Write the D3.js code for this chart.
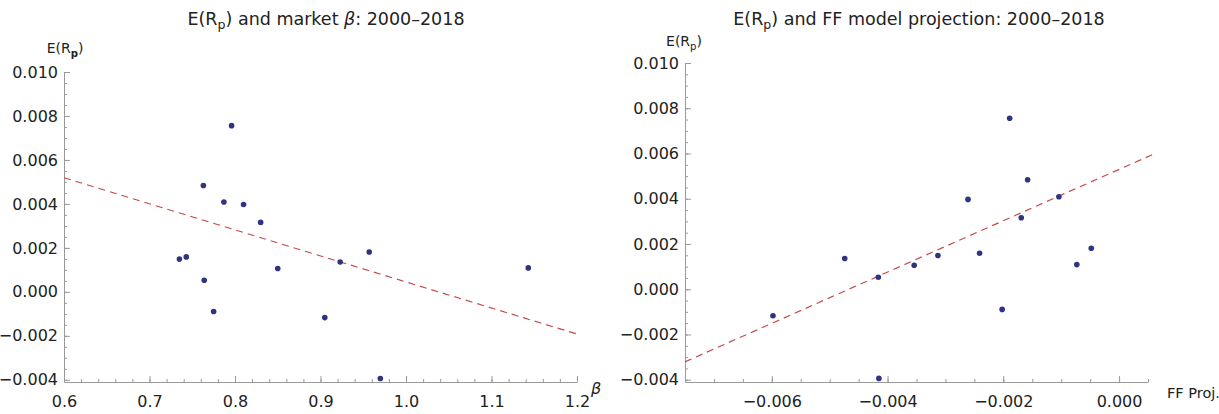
<!DOCTYPE html>
<html>
<head>
<meta charset="utf-8">
<script src="https://cdn.jsdelivr.net/npm/d3@7"></script>
<style>
body { margin: 0; background: #fff; }
text { font-family: "DejaVu Sans", sans-serif; }
</style>
</head>
<body>
<div id="chart"></div>
<script>
// expected return of each portfolio (same portfolios in both panels)
var erp = [0.00756, 0.00484, 0.00409, 0.00397, 0.00316, 0.00181, 0.00159, 0.00149,
	0.00136, 0.00109, 0.00106, 0.00053, -0.00089, -0.00117, -0.00394];
// market beta of each portfolio
var betas = [0.796, 0.763, 0.787, 0.810, 0.830, 0.957, 0.743, 0.735,
	0.923, 1.143, 0.850, 0.764, 0.775, 0.905, 0.970];
// Fama-French model projection of each portfolio
var ffProj = [-0.00189, -0.00158, -0.00104, -0.00261, -0.00169, -0.00048, -0.00241, -0.00313,
	-0.00474, -0.00073, -0.00354, -0.00416, -0.00202, -0.00598, -0.00415];

// dashed fit lines (end points)
var betaLine = [[0.6, 0.00519], [1.2, -0.00192]];
var ffLine = [[-0.0075, -0.00321], [0.00062, 0.006]];

var erpTicks = [-0.004, -0.002, 0, 0.002, 0.004, 0.006, 0.008, 0.010];
var betaTicks = [0.6, 0.7, 0.8, 0.9, 1.0, 1.1, 1.2];
var ffTicks = [-0.006, -0.004, -0.002, 0];

var WIDTH = 1219, HEIGHT = 414;
var POINT_COLOR = "#2f3382";
var LINE_COLOR = "#c44a4c";
var AXIS_COLOR = "#9a9a9a";
var TICK_FONT = "16px";

var svg = d3.select("#chart")
	.append("svg")
	.attr("width", WIDTH)
	.attr("height", HEIGHT);

function subLabel(sel, before, sub, after, bold) {
	sel.append("tspan").text(before);
	sel.append("tspan")
		.attr("dy", 4)
		.style("font-size", "0.72em")
		.attr("font-weight", bold ? "bold" : null)
		.text(sub);
	sel.append("tspan").attr("dy", -4).text(after);
}

function drawPanel(p) {
	var x = d3.scaleLinear().domain(p.xDomain).range(p.xRange);
	var y = d3.scaleLinear().domain(p.yDomain).range(p.yRange);
	var g = svg.append("g");

	// minor ticks
	var xMinor = d3.range(p.xDomain[0], p.xDomain[1] + 1e-9, p.xMinorStep)
		.map(v => +v.toFixed(6));
	g.append("g")
		.attr("transform", "translate(0," + p.yRange[0] + ")")
		.call(d3.axisBottom(x).tickValues(xMinor).tickSize(-3).tickSizeOuter(0).tickFormat(""))
		.call(a => a.select(".domain").remove())
		.selectAll("line").attr("stroke", AXIS_COLOR);
	var yMinor = d3.range(-0.004, 0.0100001, 0.0005).map(v => +v.toFixed(6));
	g.append("g")
		.attr("transform", "translate(" + p.xRange[0] + ",0)")
		.call(d3.axisLeft(y).tickValues(yMinor).tickSize(-3).tickSizeOuter(0).tickFormat(""))
		.call(a => a.select(".domain").remove())
		.selectAll("line").attr("stroke", AXIS_COLOR);

	// major ticks and labels
	var xAxis = g.append("g")
		.attr("transform", "translate(0," + p.yRange[0] + ")")
		.call(d3.axisBottom(x).tickValues(p.xTicks).tickFormat(p.xFormat)
			.tickSize(-6).tickSizeOuter(0).tickPadding(14));
	xAxis.select(".domain").attr("stroke", AXIS_COLOR);
	xAxis.selectAll("line").attr("stroke", AXIS_COLOR);
	xAxis.selectAll("text")
		.attr("fill", "#222")
		.style("font-size", TICK_FONT);

	var yAxis = g.append("g")
		.attr("transform", "translate(" + p.xRange[0] + ",0)")
		.call(d3.axisLeft(y).tickValues(erpTicks).tickFormat(d3.format(".3f"))
			.tickSize(-6).tickSizeOuter(0).tickPadding(6));
	yAxis.select(".domain").attr("stroke", AXIS_COLOR);
	yAxis.selectAll("line").attr("stroke", AXIS_COLOR);
	yAxis.selectAll("text")
		.attr("fill", "#222")
		.style("font-size", TICK_FONT);

	// fit line
	g.append("path")
		.datum(p.line)
		.attr("d", d3.line().x(d => x(d[0])).y(d => y(d[1])))
		.attr("fill", "none")
		.attr("stroke", LINE_COLOR)
		.attr("stroke-width", 1.2)
		.attr("stroke-dasharray", "7,5");

	// points
	g.append("g")
		.selectAll("circle")
		.data(erp)
		.enter()
		.append("circle")
		.attr("cx", (d, i) => x(p.xs[i]))
		.attr("cy", d => y(d))
		.attr("r", 2.8)
		.attr("fill", POINT_COLOR);

	// y axis label
	var yl = g.append("text")
		.attr("x", p.yLabelX)
		.attr("y", p.yLabelY)
		.attr("text-anchor", "middle")
		.attr("fill", "#222")
		.style("font-size", "14px");
	subLabel(yl, "E(R", "p", ")", p.boldSub);

	// title
	var t = g.append("text")
		.attr("x", p.titleX)
		.attr("y", 25)
		.attr("text-anchor", "middle")
		.attr("fill", "#222")
		.style("font-size", "17.5px");
	p.title(t);

	// x axis label
	p.xLabel(g);
}

drawPanel({
	xDomain: [0.6, 1.2], xRange: [64, 577],
	yDomain: [-0.0041, 0.010], yRange: [382, 72],
	xMinorStep: 0.02,
	xTicks: betaTicks, xFormat: d3.format(".1f"),
	xs: betas, line: betaLine,
	yLabelX: 65, yLabelY: 53, boldSub: true,
	titleX: 326,
	title: function(t) {
		subLabel(t, "E(R", "p", ") and market ", false);
		t.append("tspan").attr("font-style", "italic").text("\u03b2");
		t.append("tspan").text(": 2000\u20132018");
	},
	xLabel: function(g) {
		g.append("text")
			.attr("x", 591).attr("y", 394)
			.attr("font-style", "italic")
			.attr("fill", "#222")
			.style("font-size", "16px")
			.text("\u03b2");
	}
});

drawPanel({
	xDomain: [-0.0075, 0.0005], xRange: [685, 1148],
	yDomain: [-0.0041, 0.010], yRange: [382, 63],
	xMinorStep: 0.0005,
	xTicks: ffTicks, xFormat: d3.format(".3f"),
	xs: ffProj, line: ffLine,
	yLabelX: 684, yLabelY: 46, boldSub: false,
	titleX: 919,
	title: function(t) {
		subLabel(t, "E(R", "p", ") and FF model projection: 2000\u20132018", false);
	},
	xLabel: function(g) {
		g.append("text")
			.attr("x", 1167).attr("y", 398)
			.attr("fill", "#222")
			.style("font-size", "14.5px")
			.text("FF Proj.");
	}
});
</script>
</body>
</html>
